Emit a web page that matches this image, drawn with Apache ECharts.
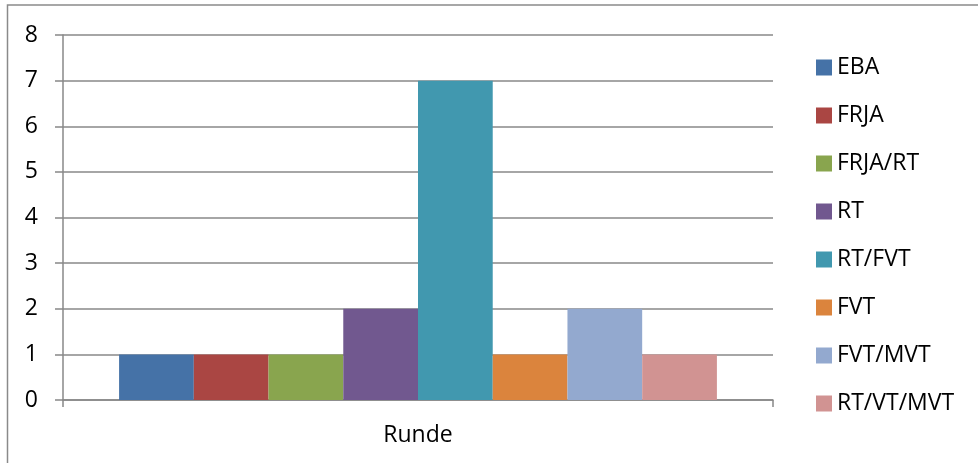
<!DOCTYPE html>
<html>
<head>
<meta charset="utf-8">
<script src="https://cdn.jsdelivr.net/npm/echarts@6/dist/echarts.min.js"></script>
<style>
  html, body { margin: 0; padding: 0; background: #fff; }
  #chart { width: 978px; height: 463px; }
</style>
</head>
<body>
<div id="chart"></div>
<script>
// One category on the x axis, one column per series
const categories = ['Runde'];
const seriesNames = ['EBA', 'FRJA', 'FRJA/RT', 'RT', 'RT/FVT', 'FVT', 'FVT/MVT', 'RT/VT/MVT'];
const seriesValues = [1, 1, 1, 2, 7, 1, 2, 1];
const seriesColors = ['#4572A7', '#AA4643', '#89A54E', '#71588F', '#4198AF', '#DB843D', '#93A9CF', '#D19392'];
const yTicks = [0, 1, 2, 3, 4, 5, 6, 7, 8];

const FONT = 'Open Sans';
const FONT_SIZE = 23;
const GRID_COLOR = '#888888';

const chart = echarts.init(document.getElementById('chart'), null, { renderer: 'canvas' });

const series = seriesNames.map((name, i) => ({
  name: name,
  type: 'bar',
  data: [seriesValues[i]],
  itemStyle: { color: seriesColors[i] },
  barGap: '0%',
  barCategoryGap: '15.8%',
  animation: false
}));

chart.setOption({
  animation: false,
  backgroundColor: '#ffffff',
  textStyle: { fontFamily: FONT },
  graphic: [{
    type: 'rect',
    shape: { x: 7.5, y: 5, width: 1000, height: 500 },
    style: { fill: 'none', stroke: '#8a8a8a', lineWidth: 1.5 },
    silent: true
  }],
  grid: { left: 63, right: 205, top: 35, bottom: 63, containLabel: false },
  legend: {
    orient: 'vertical',
    left: 816,
    top: 56,
    height: 420,
    padding: 0,
    itemWidth: 16,
    itemHeight: 16,
    itemGap: 25,
    icon: 'rect',
    data: seriesNames,
    textStyle: { fontFamily: FONT, fontSize: FONT_SIZE, color: '#000' },
    selectedMode: false
  },
  xAxis: {
    type: 'category',
    data: categories,
    boundaryGap: true,
    axisLine: { show: true, lineStyle: { color: GRID_COLOR, width: 1.5 } },
    axisTick: { show: true, length: 7, lineStyle: { color: GRID_COLOR, width: 1.5 } },
    axisLabel: { fontFamily: FONT, fontSize: FONT_SIZE, color: '#000', margin: 24 },
    splitLine: { show: false }
  },
  yAxis: {
    type: 'value',
    min: yTicks[0],
    max: yTicks[yTicks.length - 1],
    interval: 1,
    axisLine: { show: true, lineStyle: { color: GRID_COLOR, width: 1.5 } },
    axisTick: { show: true, length: 8, lineStyle: { color: GRID_COLOR, width: 1.5 } },
    axisLabel: { fontFamily: FONT, fontSize: FONT_SIZE, color: '#000', margin: 25 },
    splitLine: { show: true, lineStyle: { color: GRID_COLOR, width: 1.5 } }
  },
  series: series
});
</script>
</body>
</html>
